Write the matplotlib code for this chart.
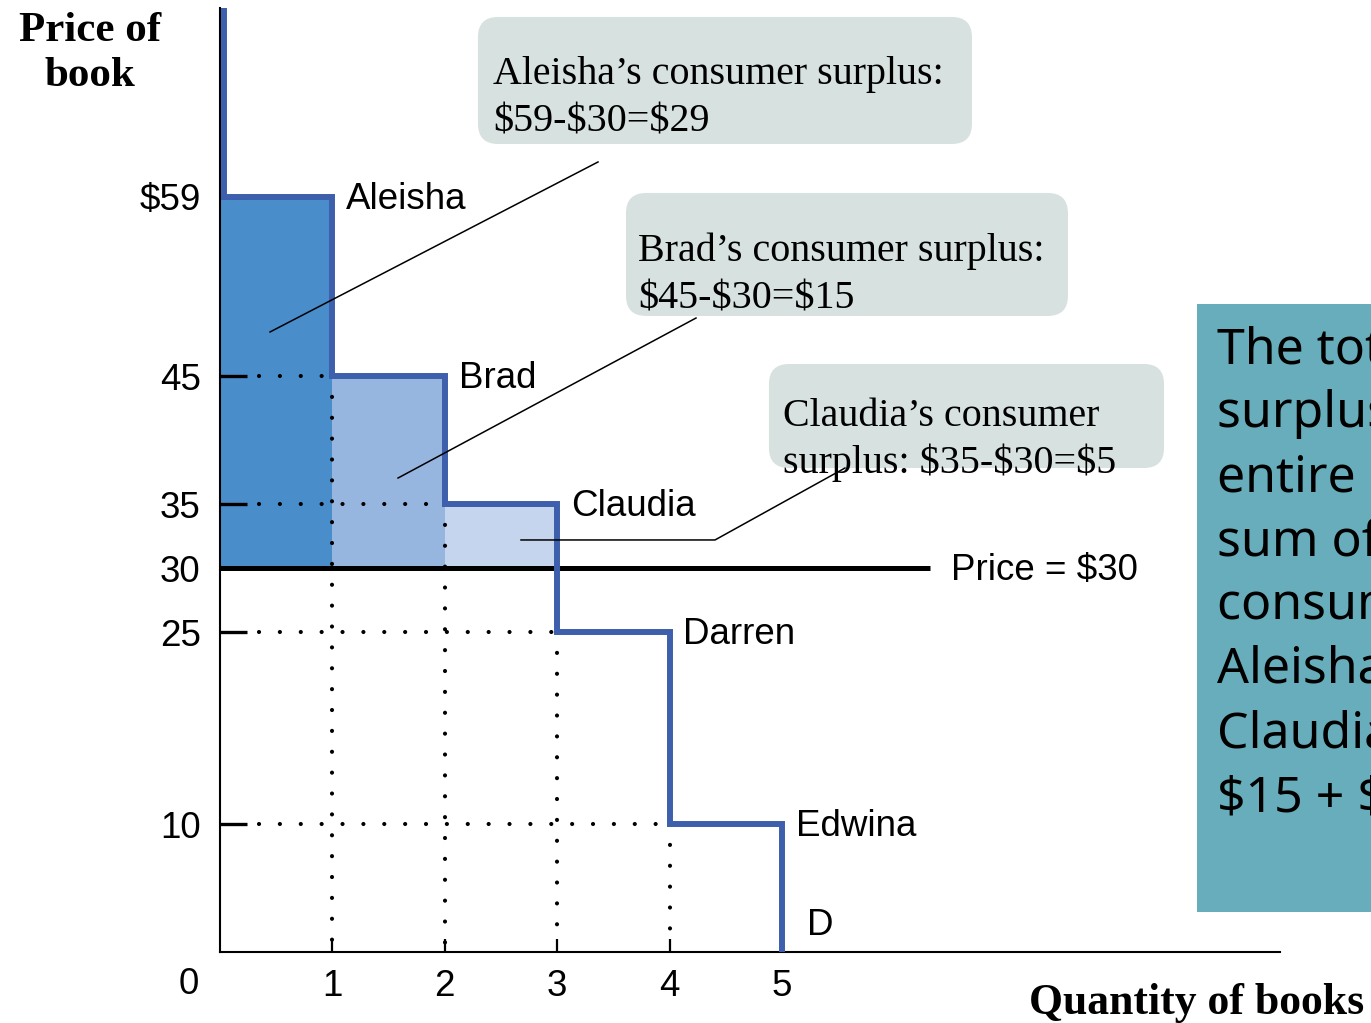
import matplotlib
matplotlib.use("Agg")
import matplotlib.pyplot as plt
from matplotlib.patches import FancyBboxPatch, Rectangle

plt.rcParams['text.parse_math'] = False

# ---- data ----
consumers = ["Aleisha", "Brad", "Claudia", "Darren", "Edwina"]
willingness = [59, 45, 35, 25, 10]
market_price = 30
ytick_vals = [59, 45, 35, 30, 25, 10]
ytick_labels = ["$59", "45", "35", "30", "25", "10"]
xtick_vals = [1, 2, 3, 4, 5]
xtick_labels = ["1", "2", "3", "4", "5"]
surplus_colors = ["#4a8dcb", "#97b6df", "#c6d5ee"]
callout_lines = [
    ["Aleisha\u2019s consumer surplus:", "$59-$30=$29"],
    ["Brad\u2019s consumer surplus:", "$45-$30=$15"],
    ["Claudia\u2019s consumer", "surplus: $35-$30=$5"],
]
total_lines = ["The total consumer", "surplus in the", "entire market is the",
               "sum of the individual", "consumer surplus of",
               "Aleisha, Brad, and", "Claudia: $29 +", "$15 + $5 = $49."]

SANS = "Liberation Sans"
SERIF = "Liberation Serif"
BLUE = "#3d5fac"

fig = plt.figure(figsize=(13.71, 10.23), dpi=100)
XMAX, YMAX = 1060 / 112.4, 944 / 12.8
ax = fig.add_axes([220 / 1371, 71 / 1023, 1060 / 1371, 944 / 1023])
ax.set_xlim(0, XMAX)
ax.set_ylim(0, YMAX)
for s in ["top", "right"]:
    ax.spines[s].set_visible(False)
for s in ["left", "bottom"]:
    ax.spines[s].set_linewidth(1.5)
    ax.spines[s].set_zorder(1)

ax.set_yticks(ytick_vals)
ax.set_yticklabels(ytick_labels, fontsize=26.5, family=SANS)
ax.set_xticks(xtick_vals)
ax.set_xticklabels(xtick_labels, fontsize=26.5, family=SANS)
ax.tick_params(axis="y", direction="in", length=19.4, width=2.4, pad=14)
ax.tick_params(axis="x", direction="in", length=9.5, width=1.6, pad=12.5)

# surplus fills
for i, (w, c) in enumerate(zip(willingness, surplus_colors)):
    ax.fill_between([i, i + 1], market_price, w, color=c, lw=0, zorder=1)

# dotted guide lines
dot_style = dict(color="black", lw=3.0, linestyle=(0, (0.01, 5.0)),
                 dash_capstyle="round", zorder=2)
for i in range(len(willingness) - 1):
    p = willingness[i + 1]
    ax.plot([0.347, i + 1], [p, p], **dot_style)
    ax.plot([i + 1, i + 1], [p, 0.6], **dot_style)

# market price line
ax.plot([0, 6.32], [market_price, market_price], color="black", lw=3.6,
        solid_capstyle="butt", zorder=3)
ax.annotate("Price = $30", (6.5, market_price), xytext=(0, -2),
            textcoords="offset points", fontsize=26.5, family=SANS,
            va="center", ha="left")

# demand step
xs, ys = [0.04], [YMAX]
for i, w in enumerate(willingness):
    xs += [max(i, 0.04), i + 1]
    ys += [w, w]
xs.append(len(willingness))
ys.append(0)
ax.plot(xs, ys, color=BLUE, lw=4.3, solid_joinstyle="miter",
        solid_capstyle="butt", zorder=4, clip_on=False)

for i, (name, w) in enumerate(zip(consumers, willingness)):
    ax.annotate(name, (i + 1, w), xytext=(10, -2), textcoords="offset points",
                fontsize=26.5, family=SANS, va="center", ha="left")
ax.annotate("D", (len(willingness), 0), xytext=(18, 19),
            textcoords="offset points", fontsize=26.5, family=SANS,
            va="center", ha="left")

# origin and axis titles
ax.text(-0.276, -2.5, "0", fontsize=26.5, family=SANS, ha="center",
        va="center", clip_on=False)
ax.text(-1.157, 70.2, "Price of\nbook", fontsize=31, family=SERIF,
        weight="bold", ha="center", va="center", linespacing=1.25,
        clip_on=False)
ax.text(7.2, -3.95, "Quantity of books", fontsize=31.5, family=SERIF,
        weight="bold", ha="left", va="center", clip_on=False)

# callout boxes
asp = 112.4 / 12.8
boxes = [(2.295, 63.125, 6.69, 73.05), (3.612, 49.69, 7.544, 59.3),
         (4.884, 37.81, 8.399, 45.94)]
text_pos = [(2.429, 68.55, 64.85), (3.719, 54.75, 51.05), (5.009, 41.85, 38.2)]
for (x0, y0, x1, y1), (tx, ty1, ty2), lines in zip(boxes, text_pos,
                                                   callout_lines):
    r = 0.18
    patch = FancyBboxPatch((x0 + r, y0 + r * asp), x1 - x0 - 2 * r,
                           y1 - y0 - 2 * r * asp,
                           boxstyle=f"round,pad={r},rounding_size={r}",
                           mutation_aspect=asp, fc="#d7e1e0", ec="none",
                           zorder=5, clip_on=False)
    ax.add_patch(patch)
    ax.text(tx, ty1, lines[0], fontsize=28.8, family=SERIF, ha="left",
            va="center", zorder=6, clip_on=False)
    ax.text(tx, ty2, lines[1], fontsize=28.8, family=SERIF, ha="left",
            va="center", zorder=6, clip_on=False)

# leader lines
ax.plot([3.363, 0.445], [61.72, 48.44], color="black", lw=1.1, zorder=7)
ax.plot([4.235, 1.584], [49.53, 37.03], color="black", lw=1.1, zorder=7)
ax.plot([5.56, 4.404, 2.678], [37.81, 32.19, 32.19], color="black", lw=1.1,
        zorder=7)

# total surplus panel (cut off by the right edge, as in the reference)
ax.add_patch(Rectangle((8.692, 3.125), 3.0, 47.5, fc="#67adbb", ec="none",
                       zorder=5, clip_on=False))
for k, line in enumerate(total_lines):
    ax.text(8.87, 47.0 - 5.0 * k, line, fontsize=36, family="Noto Sans",
            ha="left", va="center", zorder=6, clip_on=False)

fig.savefig("out.png", dpi=100)
